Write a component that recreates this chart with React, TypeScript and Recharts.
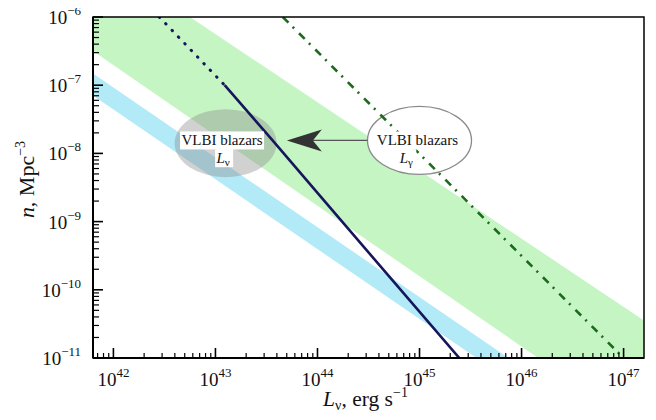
import {
  ComposedChart,
  Area,
  Line,
  XAxis,
  YAxis,
  ReferenceDot,
  ReferenceLine,
  ReferenceArea,
} from "recharts";

// everything is in log10 units: x = log L_nu [erg/s], y = log n [Mpc^-3]
const lumDecades = [42, 43, 44, 45, 46, 47];
const densDecades = [-11, -10, -9, -8, -7, -6];

const bandLum = [41.8, 47.2];
const greenUpper = [-5.05, -10.45];
const greenLower = [-6.5, -12.07];
const blueUpper = [-6.83, -12.36];
const blueLower = [-7.15, -12.68];

const dottedLum = [42.45, 42.77, 43.09];
const dottedDens = [-6.0, -6.5, -7.0];
const solidLum = [43.09, 43.56, 44.0, 44.7, 45.39];
const solidDens = [-7.0, -7.81, -8.58, -9.8, -11.0];
const dashDotLum = [43.66, 47.0];
const dashDotDens = [-6.0, -11.0];

const X_DOMAIN: [number, number] = [41.8, 47.2];
const Y_DOMAIN: [number, number] = [-11, -6];
const FONT = "'Liberation Serif', 'DejaVu Serif', serif";

const bandData = bandLum.map((x, i) => ({
  x,
  green: [greenLower[i], greenUpper[i]],
  blue: [blueLower[i], blueUpper[i]],
}));
const dottedData = dottedLum.map((x, i) => ({ x, n: dottedDens[i] }));
const solidData = solidLum.map((x, i) => ({ x, n: solidDens[i] }));
const dashDotData = dashDotLum.map((x, i) => ({ x, n: dashDotDens[i] }));

const withMinor = (decades: number[], domain: [number, number]) => {
  const out: number[] = [];
  for (let d = decades[0] - 1; d <= decades[decades.length - 1]; d++) {
    for (let k = 1; k < 10; k++) {
      const v = d + Math.log10(k);
      if (v >= domain[0] - 1e-9 && v <= domain[1] + 1e-9) out.push(v);
    }
  }
  return out;
};
const xTicks = withMinor(lumDecades, X_DOMAIN);
const yTicks = withMinor(densDecades, Y_DOMAIN);
const isMajor = (v: number) => Math.abs(v - Math.round(v)) < 1e-6;

const XTick = ({ x, y, payload }: any) => {
  const v = payload.value;
  const major = isMajor(v);
  return (
    <g>
      <line x1={x} x2={x} y1={y} y2={y - (major ? 10 : 5)} stroke="#000" strokeWidth={major ? 1.6 : 1.2} />
      {major && (
        <text x={x} y={y + 28} textAnchor="middle" fontSize={19} fontFamily={FONT} fill="#111">
          10<tspan dy={-9} fontSize={13}>{Math.round(v)}</tspan>
        </text>
      )}
    </g>
  );
};

const YTick = ({ x, y, payload }: any) => {
  const v = payload.value;
  const major = isMajor(v);
  return (
    <g>
      <line x1={x} x2={x + (major ? 10 : 6)} y1={y} y2={y} stroke="#000" strokeWidth={major ? 1.6 : 1.2} />
      {major && (
        <text x={x - 12} y={y + 7} textAnchor="end" fontSize={19} fontFamily={FONT} fill="#111">
          10<tspan dy={-9} fontSize={13}>{"\u2212" + Math.abs(Math.round(v))}</tspan>
        </text>
      )}
    </g>
  );
};

const Ellipse = (rx: number, ry: number, fill: string, stroke: string, opacity = 1) => (p: any) => (
  <ellipse cx={p.cx} cy={p.cy} rx={rx} ry={ry} fill={fill} fillOpacity={opacity} stroke={stroke} strokeWidth={1.3} />
);

const BoxText = (text: string, w: number) => (p: any) => (
  <g>
    <rect x={p.cx - w / 2} y={p.cy - 9} width={w} height={18} fill="#fff" />
    <text x={p.cx} y={p.cy + 5} textAnchor="middle" fontSize={15} fontFamily={FONT} fill="#111">
      {text}
    </text>
  </g>
);

const BoxSymbol = (sub: string) => (p: any) => (
  <g>
    <rect x={p.cx - 9} y={p.cy - 9} width={18} height={18} fill="#fff" />
    <text x={p.cx - 1} y={p.cy + 5} textAnchor="middle" fontSize={15} fontFamily={FONT} fill="#111">
      <tspan fontStyle="italic">L</tspan>
      <tspan fontSize={11} dy={3}>{sub}</tspan>
    </text>
  </g>
);

const ArrowHead = (p: any) => (
  <polygon
    points={`${p.cx},${p.cy} ${p.cx + 35},${p.cy - 11} ${p.cx + 26},${p.cy} ${p.cx + 35},${p.cy + 11}`}
    fill="#333"
  />
);

const XLabel = ({ viewBox }: any) => (
  <text x={viewBox.x + viewBox.width / 2 - 3} y={viewBox.y + 48} textAnchor="middle" fontSize={21.5} fontFamily={FONT} fill="#111">
    <tspan fontStyle="italic">L</tspan>
    <tspan fontSize={14} dy={4}>ν</tspan>
    <tspan dy={-4}>, erg s</tspan>
    <tspan fontSize={14} dy={-9}>−1</tspan>
  </text>
);

const YLabel = ({ viewBox }: any) => {
  const x = 34;
  const y = viewBox.y + viewBox.height / 2 - 8;
  return (
    <text x={x} y={y} transform={`rotate(-90, ${x}, ${y})`} textAnchor="middle" fontSize={22} fontFamily={FONT} fill="#111">
      <tspan fontStyle="italic">n</tspan>
      <tspan>, Mpc</tspan>
      <tspan fontSize={14} dy={-9}>−3</tspan>
    </text>
  );
};

export default function App() {
  return (
    <div style={{ margin: -8, width: 656, height: 420 }}>
      <ComposedChart width={656} height={420} data={bandData} margin={{ top: 17, right: 12, left: 8, bottom: 8 }}>
        <XAxis
          dataKey="x"
          type="number"
          domain={X_DOMAIN}
          allowDataOverflow
          ticks={xTicks}
          interval={0}
          tick={(p: any) => <XTick {...p} />}
          tickLine={false}
          tickSize={0}
          tickMargin={0}
          height={54}
          axisLine={{ stroke: "#000", strokeWidth: 2 }}
          label={(p: any) => <XLabel {...p} />}
        />
        <YAxis
          type="number"
          domain={Y_DOMAIN}
          allowDataOverflow
          ticks={yTicks}
          interval={0}
          tick={(p: any) => <YTick {...p} />}
          tickLine={false}
          tickSize={0}
          tickMargin={0}
          width={85}
          axisLine={{ stroke: "#000", strokeWidth: 2 }}
          label={(p: any) => <YLabel {...p} />}
        />
        <Area dataKey="green" type="linear" stroke="none" fill="#c6f5c4" fillOpacity={1} isAnimationActive={false} zIndex={100} />
        <Area dataKey="blue" type="linear" stroke="none" fill="#b2eaf7" fillOpacity={1} isAnimationActive={false} zIndex={101} />
        <ReferenceDot x={43.1} y={-7.85} shape={Ellipse(51, 34, "#8c8c8c", "none", 0.4)} zIndex={150} />
        <ReferenceDot x={45.0} y={-7.81} shape={Ellipse(52, 34, "#fff", "#8a8a8a")} zIndex={150} />
        <Line data={dottedData} dataKey="n" type="linear" stroke="#16165c" strokeWidth={3} strokeDasharray="0.5 8.7" strokeLinecap="round" dot={false} isAnimationActive={false} zIndex={400} />
        <Line data={solidData} dataKey="n" type="linear" stroke="#16165c" strokeWidth={2.6} dot={false} isAnimationActive={false} zIndex={400} />
        <Line data={dashDotData} dataKey="n" type="linear" stroke="#1c6b1c" strokeWidth={2.6} strokeDasharray="8 6 2 7" dot={false} isAnimationActive={false} zIndex={400} />
        <ReferenceLine segment={[{ x: 43.95, y: -7.81 }, { x: 44.49, y: -7.81 }]} stroke="#555" strokeWidth={1.2} zIndex={450} />
        <ReferenceDot x={43.7} y={-7.81} shape={ArrowHead} zIndex={450} />
        <ReferenceDot x={43.065} y={-7.81} shape={BoxText("VLBI blazars", 84)} zIndex={700} />
        <ReferenceDot x={43.085} y={-8.07} shape={BoxSymbol("ν")} zIndex={700} />
        <ReferenceDot x={44.98} y={-7.81} shape={BoxText("VLBI blazars", 84)} zIndex={700} />
        <ReferenceDot x={44.88} y={-8.07} shape={BoxSymbol("γ")} zIndex={700} />
        <ReferenceArea x1={41.8} x2={47.2} y1={-11} y2={-6} fill="none" stroke="#000" strokeWidth={1.5} zIndex={800} />
      </ComposedChart>
    </div>
  );
}
